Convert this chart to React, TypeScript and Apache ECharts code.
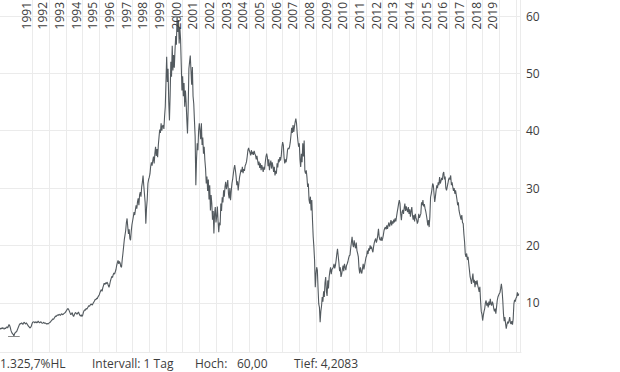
import React, { useEffect, useRef } from "react";
import * as echarts from "echarts";

// ---- axis / label constants ----
const FIRST_YEAR = 1990;
const POINTS_PER_YEAR = 24; // semi-monthly readings
const AXIS_END = 2021.26;
const YEAR_LABELS = [
  "1991", "1992", "1993", "1994", "1995", "1996", "1997", "1998", "1999", "2000",
  "2001", "2002", "2003", "2004", "2005", "2006", "2007", "2008", "2009", "2010",
  "2011", "2012", "2013", "2014", "2015", "2016", "2017", "2018", "2019",
];
// vertical year grid lines (Jan 1st) drawn in the reference
const GRID_YEARS = [
  1992, 1993, 1994, 1995, 1996, 1997, 1998, 1999, 2000, 2001,
  2002, 2003, 2004, 2005, 2006, 2007, 2008, 2009, 2010, 2011,
  2012, 2013, 2014, 2015, 2016, 2017, 2018, 2019, 2020, 2021,
];
const HL_TEXT = "1.325,7%HL";
const INTERVAL_TEXT = "Intervall: 1 Tag";
const HIGH_CAPTION = "Hoch:";
const LOW_CAPTION = "Tief:";

// ---- price readings, one row per year (semi-monthly) ----
const prices1990s: number[][] = [
  [5.6, 5.4, 5.6, 5.5, 5.7, 5.5, 5.4, 5.6, 5.5, 5.7, 5.8, 5.6, 5.9, 6.2, 6.0, 5.6, 5.1, 4.8, 4.6, 4.5, 4.2083, 4.6, 4.8, 4.9],
  [5.0, 5.3, 5.6, 5.9, 6.2, 6.4, 6.3, 6.5, 6.4, 6.2, 6.5, 6.6, 6.4, 6.3, 6.5, 6.3, 6.1, 5.9, 5.8, 5.6, 5.7, 5.9, 6.3, 6.6],
  [6.6, 6.7, 6.5, 6.6, 6.7, 6.5, 6.6, 6.8, 6.6, 6.5, 6.6, 6.7, 6.5, 6.4, 6.5, 6.6, 6.4, 6.5, 6.4, 6.3, 6.4, 6.3, 6.4, 6.5],
  [6.5, 6.7, 6.9, 7.0, 7.2, 7.1, 7.3, 7.5, 7.7, 7.6, 7.8, 7.9, 7.8, 8.0, 7.9, 7.8, 8.0, 8.1, 7.9, 8.0, 8.1, 8.2, 8.3, 8.5],
  [8.7, 8.9, 9.0, 8.8, 8.5, 8.2, 7.9, 8.1, 8.3, 7.8, 7.6, 7.9, 8.2, 8.3, 8.1, 8.0, 8.2, 8.4, 8.1, 7.8, 7.7, 7.9, 7.6, 7.8],
  [8.3, 8.6, 8.8, 8.7, 9.0, 8.9, 9.1, 9.3, 9.5, 9.4, 9.6, 9.8, 9.7, 9.6, 9.9, 10.1, 10.3, 10.6, 10.5, 10.8, 10.7, 11.0, 11.2, 11.4],
  [11.8, 12.1, 12.3, 12.0, 12.6, 13.0, 13.4, 13.2, 13.5, 13.3, 13.6, 13.4, 13.0, 12.7, 13.2, 13.8, 14.2, 14.6, 14.4, 14.9, 15.2, 15.0, 15.4, 15.8],
  [16.5, 17.0, 17.4, 16.8, 17.2, 16.9, 16.3, 16.2, 17.5, 18.6, 19.8, 21.0, 21.8, 22.6, 24.0, 24.7, 23.2, 22.0, 22.8, 21.2, 20.9, 22.5, 23.6, 24.3],
  [25.0, 25.8, 25.3, 26.2, 27.0, 26.4, 27.6, 28.2, 27.0, 28.8, 29.3, 28.5, 30.2, 31.0, 32.2, 30.5, 29.0, 27.5, 23.8, 26.5, 28.0, 30.8, 31.5, 31.9],
  [32.5, 33.8, 34.5, 33.9, 34.8, 35.5, 34.3, 36.0, 37.2, 35.6, 36.8, 35.4, 37.5, 38.9, 40.2, 39.6, 41.3, 40.0, 40.8, 41.0, 40.3, 42.5, 44.2, 48.5],
];

const prices2000s: number[][] = [
  [52.9, 48.5, 50.8, 45.0, 41.8, 46.2, 52.0, 49.4, 54.8, 50.5, 53.2, 51.0, 54.0, 56.5, 55.0, 60.0, 57.2, 59.3, 55.2, 58.0, 56.0, 51.5, 47.0, 49.5],
  [46.0, 48.3, 44.2, 47.0, 45.0, 42.0, 39.5, 44.0, 50.8, 52.0, 53.1, 50.5, 48.0, 51.1, 46.0, 44.7, 41.8, 39.0, 30.5, 35.0, 37.8, 36.6, 40.0, 41.3],
  [40.0, 38.5, 41.3, 37.5, 38.8, 36.0, 37.2, 34.9, 33.4, 30.8, 32.0, 29.5, 31.5, 28.0, 30.5, 26.1, 28.8, 27.3, 24.5, 26.0, 22.1, 25.5, 26.7, 24.0],
  [25.0, 26.8, 24.2, 22.3, 24.0, 23.5, 27.3, 26.0, 28.4, 27.5, 29.6, 28.5, 30.2, 31.1, 29.8, 30.5, 31.4, 29.0, 28.2, 30.0, 27.9, 29.5, 30.8, 31.5],
  [32.5, 33.4, 34.0, 33.1, 32.0, 30.5, 31.2, 29.6, 30.8, 31.9, 32.5, 33.2, 32.8, 33.7, 32.6, 33.3, 33.0, 33.9, 34.2, 34.6, 35.5, 36.6, 37.0, 36.5],
  [36.2, 35.7, 36.6, 35.9, 36.3, 35.8, 36.5, 36.0, 35.7, 35.0, 35.6, 34.8, 34.0, 34.6, 33.5, 34.3, 33.1, 34.0, 33.5, 32.8, 33.7, 33.2, 34.5, 35.5],
  [36.0, 35.4, 33.8, 35.0, 33.1, 34.2, 34.8, 33.4, 34.5, 33.8, 32.8, 33.7, 32.2, 33.0, 32.5, 34.3, 33.6, 35.0, 34.5, 35.4, 34.8, 35.6, 37.2, 38.0],
  [37.5, 35.4, 34.3, 35.0, 34.5, 35.3, 36.6, 37.0, 36.8, 37.2, 38.0, 39.2, 40.5, 39.6, 41.0, 39.8, 40.7, 41.5, 42.1, 41.3, 39.5, 38.2, 37.2, 37.8],
  [35.0, 33.7, 36.0, 34.5, 37.8, 35.5, 38.3, 33.0, 32.5, 33.1, 31.9, 30.2, 30.8, 28.0, 27.3, 28.5, 26.1, 27.9, 24.4, 21.5, 19.7, 17.4, 12.7, 15.0],
  [16.2, 15.7, 12.5, 9.8, 9.2, 6.6, 8.5, 9.4, 11.0, 10.2, 12.0, 11.0, 13.5, 14.5, 12.0, 11.2, 13.9, 12.5, 14.5, 15.5, 16.2, 15.0, 15.8, 16.0],
];

const prices2010s: number[][] = [
  [16.2, 16.8, 16.0, 16.5, 17.4, 18.5, 19.4, 18.2, 17.0, 15.5, 16.2, 14.5, 15.0, 15.8, 16.5, 15.5, 16.8, 16.2, 15.7, 16.5, 16.8, 17.2, 17.8, 18.2],
  [18.3, 19.5, 20.5, 21.5, 20.2, 19.7, 20.9, 20.0, 19.5, 20.5, 19.1, 18.6, 18.0, 16.0, 15.1, 16.2, 15.5, 15.1, 16.0, 16.8, 15.8, 16.5, 17.2, 17.9],
  [18.2, 19.1, 18.5, 19.5, 19.1, 20.0, 19.4, 19.8, 19.2, 18.8, 19.8, 20.5, 20.9, 21.2, 20.5, 21.0, 21.8, 22.9, 21.5, 21.0, 20.9, 21.5, 20.8, 21.2],
  [21.8, 22.6, 23.0, 23.2, 22.8, 23.5, 22.9, 23.5, 24.0, 23.3, 23.8, 24.4, 23.5, 24.2, 23.8, 24.5, 24.0, 24.7, 24.2, 25.0, 25.8, 26.5, 27.3, 27.9],
  [27.3, 25.5, 24.4, 25.8, 26.2, 25.5, 26.5, 27.3, 26.0, 26.8, 26.2, 25.8, 26.7, 25.5, 26.3, 25.0, 26.0, 26.7, 25.2, 24.5, 25.3, 24.2, 25.5, 24.8],
  [24.5, 23.8, 24.2, 25.5, 24.8, 25.2, 25.5, 27.5, 27.0, 27.9, 26.8, 27.2, 26.5, 26.0, 25.3, 24.5, 23.5, 24.4, 23.2, 25.0, 28.4, 29.0, 29.8, 30.8],
  [30.5, 29.0, 27.6, 28.5, 29.6, 30.5, 30.0, 31.0, 30.5, 31.9, 30.8, 31.2, 31.8, 31.4, 32.5, 32.8, 31.5, 32.0, 30.0, 29.6, 30.2, 30.8, 31.5, 31.8],
  [31.5, 32.2, 30.5, 31.0, 30.2, 29.5, 30.0, 29.0, 29.6, 28.8, 28.0, 27.0, 27.5, 26.1, 25.5, 25.0, 24.5, 25.3, 24.0, 23.8, 22.0, 20.6, 18.5, 18.0],
  [18.6, 17.5, 18.0, 16.8, 15.7, 14.5, 14.0, 13.3, 14.2, 15.1, 13.5, 14.0, 12.7, 13.8, 13.2, 13.9, 13.0, 12.5, 11.9, 12.8, 10.4, 8.5, 8.0, 6.9],
  [7.8, 8.5, 9.0, 10.0, 10.4, 9.5, 10.0, 9.2, 10.2, 9.6, 10.7, 9.8, 9.5, 10.2, 9.8, 9.0, 8.5, 9.0, 8.1, 9.2, 10.4, 11.0, 11.3, 11.6],
];

const prices2020s: number[][] = [
  [11.8, 12.5, 13.3, 12.2, 10.4, 8.1, 6.8, 7.5, 6.4, 5.5, 6.2, 6.7, 6.4, 6.9, 7.5, 6.5, 6.3, 6.8, 6.2, 7.2, 9.8, 10.5, 10.2, 10.8],
  [11.0, 11.8, 11.2, 11.6],
];

function buildSeries(): [number, number][] {
  const rows = [...prices1990s, ...prices2000s, ...prices2010s, ...prices2020s];
  const out: [number, number][] = [];
  rows.forEach((row, r) =>
    row.forEach((v, i) => out.push([FIRST_YEAR + r + i / POINTS_PER_YEAR, v]))
  );
  return out;
}

const FONT = '"Open Sans", "Noto Sans", sans-serif';
const TEXT_COLOR = "#3d3d3d";
const GRID_COLOR = "#ebebeb";
const LINE_COLOR = "#535a5f";
// year labels sit in the middle of each year band
const LABEL_SHIFT = 0.56;

export default function App() {
  const ref = useRef<HTMLDivElement>(null);

  useEffect(() => {
    if (!ref.current) return;
    const chart = echarts.init(ref.current, undefined, { renderer: "svg" });
    const data = buildSeries();
    let hi = data[0];
    let lo = data[0];
    for (const d of data) {
      if (d[1] > hi[1]) hi = d;
      if (d[1] < lo[1]) lo = d;
    }
    const pad = (hi[1] - lo[1]) * 0.05;
    const yMin = lo[1] - pad;
    const yMax = hi[1] + pad;
    const fmt = (v: number, digits: number) => v.toFixed(digits).replace(".", ",");
    const markHalf = 0.35;

    const textStyle = (text: string) => ({
      text,
      fill: TEXT_COLOR,
      fontSize: 12,
      fontFamily: FONT,
      verticalAlign: "middle",
    });

    chart.setOption({
      animation: false,
      grid: { left: 0, right: 99, top: 0, bottom: 20, containLabel: false },
      xAxis: {
        type: "value",
        position: "bottom",
        min: FIRST_YEAR,
        max: AXIS_END,
        interval: 1,
        axisLine: { show: true, lineStyle: { color: GRID_COLOR } },
        axisTick: { show: false },
        axisLabel: { show: false },
        splitLine: { show: false },
      },
      yAxis: {
        type: "value",
        position: "right",
        min: yMin,
        max: yMax,
        splitNumber: 5,
        axisLine: { show: false },
        axisTick: { show: false },
        axisLabel: {
          margin: 5,
          fontSize: 12,
          fontFamily: FONT,
          color: TEXT_COLOR,
          showMinLabel: false,
          showMaxLabel: false,
        },
        splitLine: { show: true, showMaxLine: false, lineStyle: { color: GRID_COLOR, width: 1 } },
      },
      series: [
        {
          // vertical year grid lines, positioned through the x scale
          type: "custom",
          silent: true,
          z: 0,
          data: [...GRID_YEARS, AXIS_END].map((y) => [y, yMin, yMax]),
          renderItem: (params: any, api: any) => {
            const top = api.coord([api.value(0), api.value(2)]);
            const bottom = api.coord([api.value(0), api.value(1)]);
            const x = Math.round(top[0]) - 0.5;
            return {
              type: "line",
              shape: { x1: x, y1: top[1], x2: x, y2: bottom[1] },
              style: { stroke: GRID_COLOR, lineWidth: 1 },
            };
          },
        },
        {
          type: "line",
          z: 3,
          data,
          symbol: "none",
          showSymbol: false,
          lineStyle: { color: LINE_COLOR, width: 1.1 },
          itemStyle: { color: LINE_COLOR },
          markLine: {
            silent: true,
            symbol: ["none", "none"],
            label: { show: false },
            lineStyle: { color: "#8a8a8a", type: "solid", width: 1 },
            data: [
              [{ coord: [hi[0] - markHalf, hi[1]] }, { coord: [hi[0] + markHalf, hi[1]] }],
              [{ coord: [lo[0] - markHalf, lo[1]] }, { coord: [lo[0] + markHalf, lo[1]] }],
            ],
          },
        },
        {
          // rotated year labels along the top, placed through the x scale
          type: "custom",
          silent: true,
          clip: false,
          z: 4,
          data: YEAR_LABELS.map((y) => [Number(y) + LABEL_SHIFT, yMax]),
          renderItem: (params: any, api: any) => {
            const pt = api.coord([api.value(0), api.value(1)]);
            return {
              type: "text",
              x: pt[0],
              y: pt[1] + 2,
              rotation: Math.PI / 2,
              style: {
                text: YEAR_LABELS[params.dataIndex],
                fill: TEXT_COLOR,
                fontSize: 12,
                fontFamily: FONT,
                align: "right",
                verticalAlign: "middle",
              },
            };
          },
        },
      ],
      graphic: [
        { type: "text", x: 0, y: 363, style: textStyle(HL_TEXT) },
        { type: "text", x: 92, y: 363, style: textStyle(INTERVAL_TEXT) },
        { type: "text", x: 195, y: 363, style: textStyle(HIGH_CAPTION) },
        { type: "text", x: 237, y: 363, style: textStyle(fmt(hi[1], 2)) },
        { type: "text", x: 294, y: 363, style: textStyle(`${LOW_CAPTION} ${fmt(lo[1], 4)}`) },
      ],
    });
    return () => chart.dispose();
  }, []);

  return (
    <div
      ref={ref}
      style={{ position: "absolute", left: 0, top: 0, width: 620, height: 372 }}
    />
  );
}
